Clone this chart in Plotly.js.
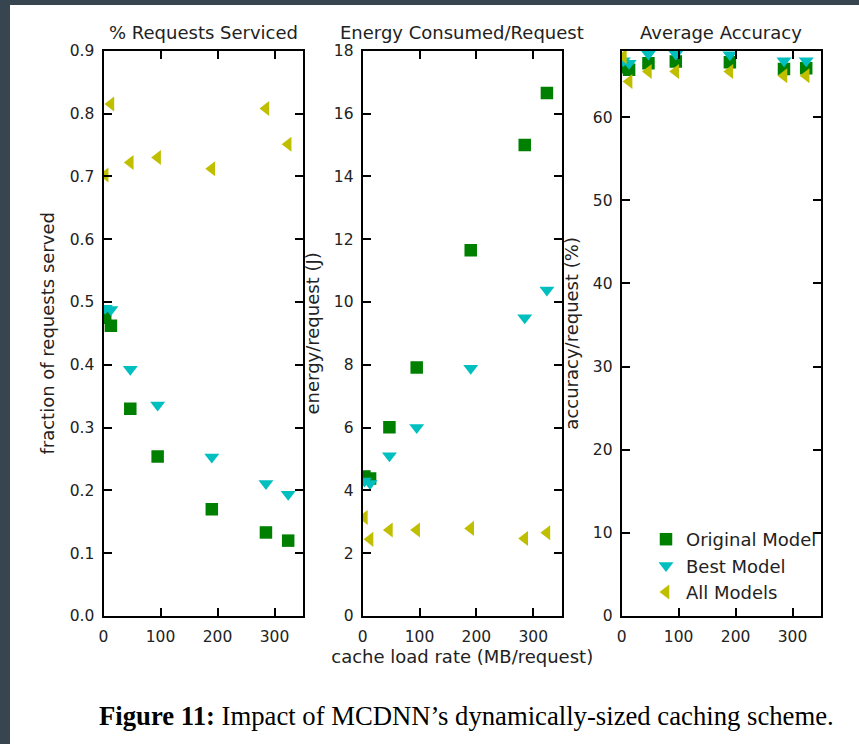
<!DOCTYPE html>
<html>
<head>
<meta charset="utf-8">
<script src="https://cdn.plot.ly/plotly-3.0.1.min.js"></script>
<style>
  html, body { margin: 0; padding: 0; background: #36454F; width: 859px; height: 744px; overflow: hidden; }
  #chart { position: absolute; left: 10px; top: 5px; width: 849px; height: 739px; background: #ffffff; }
</style>
</head>
<body>
<div id="chart"></div>
<script>
// ---- data ----
const cacheLoadRate = [3, 13, 47, 95, 190, 285, 324];   // MB/request

const servedOriginal = [0.475, 0.462, 0.330, 0.254, 0.170, 0.133, 0.120];
const servedBest     = [0.490, 0.488, 0.393, 0.336, 0.253, 0.211, 0.194];
const servedAll      = [0.702, 0.815, 0.722, 0.730, 0.712, 0.808, 0.751];

const energyOriginal = [4.44, 4.38, 6.01, 7.91, 11.65, 15.0, 16.65];
const energyBest     = [4.30, 4.22, 5.10, 6.00, 7.89, 9.50, 10.38];
const energyAll      = [3.14, 2.44, 2.74, 2.74, 2.79, 2.47, 2.65];

const accuracyOriginal = [66.0, 65.7, 66.5, 66.7, 66.6, 65.8, 65.9];
const accuracyBest     = [66.8, 66.5, 67.6, 67.6, 67.5, 66.8, 66.8];
const accuracyAll      = [67.3, 64.3, 65.5, 65.5, 65.5, 65.0, 65.0];

const seriesNames = ['Original Model', 'Best Model', 'All Models'];
const panelTitles = ['% Requests Serviced', 'Energy Consumed/Request', 'Average Accuracy'];
const xTicks = [0, 100, 200, 300];

// ---- styles ----
const FONT = 'DejaVu Sans, sans-serif';
const styles = [
  {color: '#008000', symbol: 'square', size: 12.5},
  {color: '#00BFBF', symbol: 'triangle-down', size: 13},
  {color: '#BFBF00', symbol: 'triangle-left', size: 13}
];

const panels = [
  {xa: 'x',  ya: 'y',  data: [servedOriginal, servedBest, servedAll]},
  {xa: 'x2', ya: 'y2', data: [energyOriginal, energyBest, energyAll]},
  {xa: 'x3', ya: 'y3', data: [accuracyOriginal, accuracyBest, accuracyAll]}
];

const traces = [];
panels.forEach((p, pi) => {
  p.data.forEach((vals, si) => {
    traces.push({
      type: 'scatter', mode: 'markers',
      x: cacheLoadRate, y: vals,
      xaxis: p.xa, yaxis: p.ya,
      name: seriesNames[si],
      legendgroup: seriesNames[si],
      legendrank: si + 1,
      showlegend: pi === 2,
      cliponaxis: true,
      marker: {color: styles[si].color, symbol: styles[si].symbol, size: styles[si].size, line: {width: 0}}
    });
  });
});

const axisBase = {
  showline: true, linecolor: '#000', linewidth: 2, mirror: 'ticks',
  ticks: 'inside', ticklen: 8, tickwidth: 1.5, tickcolor: '#000',
  showgrid: false, zeroline: false, automargin: false,
  tickfont: {family: FONT, size: 15.5, color: '#222'}
};
const titleFont = {family: FONT, size: 18, color: '#222'};

const W = 849, H = 739;
const xd = [[93.5, 293], [352.7, 551.7], [611.7, 811]].map(d => [d[0] / W, d[1] / W]);
const yd = [1 - 611 / H, 1 - 45.7 / H];

const xBase = Object.assign({}, axisBase, {range: [0, 350], tickvals: xTicks, ticklabelstandoff: 5});

const layout = {
  width: W, height: H,
  margin: {l: 0, r: 0, t: 0, b: 0},
  paper_bgcolor: '#ffffff', plot_bgcolor: '#ffffff',
  font: {family: FONT, color: '#222'},
  showlegend: true,
  legend: {
    x: 636 / W, y: 1 - 516 / H, xanchor: 'left', yanchor: 'top',
    bgcolor: 'rgba(0,0,0,0)', borderwidth: 0,
    font: {family: FONT, size: 18, color: '#222'},
    tracegroupgap: 0
  },
  xaxis:  Object.assign({}, xBase, {domain: xd[0], anchor: 'y'}),
  xaxis2: Object.assign({}, xBase, {domain: xd[1], anchor: 'y2',
    title: {text: 'cache load rate (MB/request)', standoff: 6, font: titleFont}}),
  xaxis3: Object.assign({}, xBase, {domain: xd[2], anchor: 'y3'}),
  yaxis: Object.assign({}, axisBase, {domain: yd, anchor: 'x', range: [0, 0.9], dtick: 0.1, tickformat: '.1f', ticklabelstandoff: 4,
    title: {text: 'fraction of requests served', standoff: 10, font: titleFont}}),
  yaxis2: Object.assign({}, axisBase, {domain: yd, anchor: 'x2', range: [0, 18], dtick: 2, ticklabelstandoff: 4,
    title: {text: 'energy/request (J)', standoff: 10, font: titleFont}}),
  yaxis3: Object.assign({}, axisBase, {domain: yd, anchor: 'x3', range: [0, 68], tickvals: [0, 10, 20, 30, 40, 50, 60], ticklabelstandoff: 4,
    title: {text: 'accuracy/request (%)', standoff: 10, font: titleFont}}),
  annotations: panelTitles.map((t, i) => ({
    text: t, xref: 'paper', yref: 'paper',
    x: (xd[i][0] + xd[i][1]) / 2, y: 1 - 28 / H,
    xanchor: 'center', yanchor: 'middle', showarrow: false,
    font: titleFont
  })).concat([{
    text: '<b>Figure 11:</b> Impact of MCDNN’s dynamically-sized caching scheme.',
    xref: 'paper', yref: 'paper', x: 456 / W, y: 1 - 711 / H,
    xanchor: 'center', yanchor: 'middle', showarrow: false,
    font: {family: 'Liberation Serif, Times New Roman, serif', size: 26.7, color: '#000'}
  }])
};

Plotly.newPlot('chart', traces, layout, {displayModeBar: false, responsive: false});
</script>
</body>
</html>
